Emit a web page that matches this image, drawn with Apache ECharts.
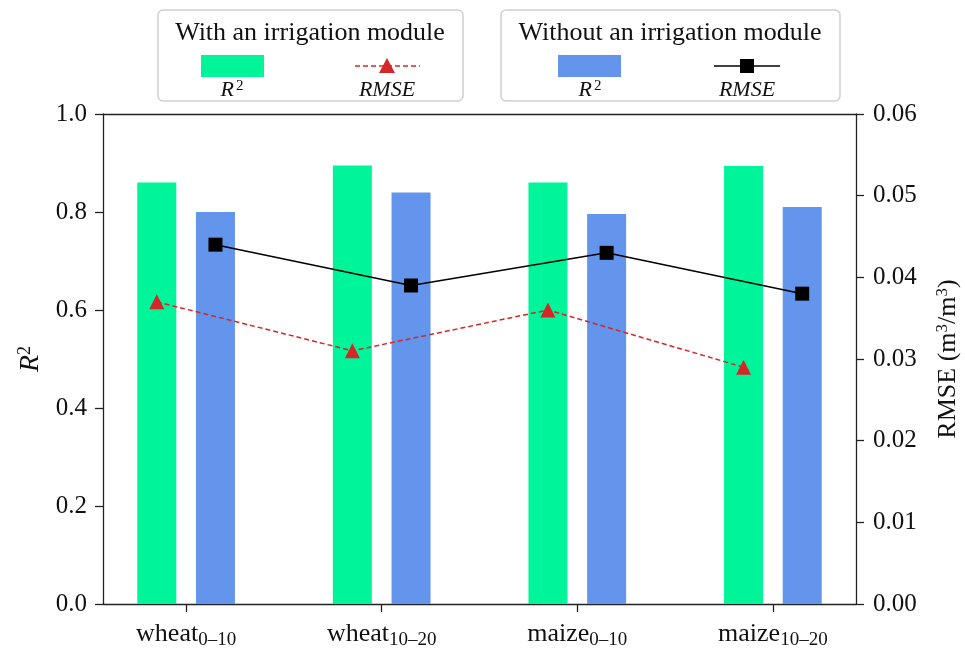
<!DOCTYPE html>
<html><head><meta charset="utf-8">
<script src="https://cdn.jsdelivr.net/npm/echarts@6/dist/echarts.min.js"></script>
<style>html,body{margin:0;padding:0;background:#fff}#c{width:965px;height:649px}</style>
</head><body><div id="c"></div>
<script>
const crops = ['wheat', 'wheat', 'maize', 'maize'];
const depths = ['0–10', '10–20', '0–10', '10–20'];
const r2With = [0.86, 0.895, 0.86, 0.894];
const r2Without = [0.80, 0.84, 0.796, 0.81];
const rmseWith = [0.037, 0.031, 0.036, 0.029];
const rmseWithout = [0.044, 0.039, 0.043, 0.038];
const leftTicks = [0, 0.2, 0.4, 0.6, 0.8, 1.0];
const rightTicks = [0, 0.01, 0.02, 0.03, 0.04, 0.05, 0.06];

const FONT = 'Liberation Serif';
const OFF = 0.15;
const GREEN = '#00F59B', BLUE = '#6495ED', RED = '#D62728';
const idx = crops.map((_, i) => i);
const pos = (arr, d) => arr.map((v, i) => [i + d, v]);

const chart = echarts.init(document.getElementById('c'));
const axisLineStyle = { color: '#222', width: 1.3 };

chart.setOption({
  animation: false,
  grid: { left: 103, right: 109, top: 114, bottom: 45, outerBoundsMode: 'none', containLabel: false },
  xAxis: [{
    type: 'value', min: -0.425, max: 3.425, position: 'bottom',
    splitLine: { show: false },
    axisLine: { show: true, onZero: false, lineStyle: axisLineStyle },
    axisTick: { show: true, customValues: idx, length: 8, inside: false, lineStyle: axisLineStyle },
    axisLabel: {
      customValues: idx, margin: 15, color: '#111', fontFamily: FONT, fontSize: 26,
      formatter: v => crops[Math.round(v)] + '{s|' + depths[Math.round(v)] + '}',
      rich: { s: { fontFamily: FONT, fontSize: 19, verticalAlign: 'bottom', padding: [12, 0, 0, 0], color: '#111' } }
    }
  }, {
    type: 'value', min: -0.425, max: 3.425, position: 'top',
    splitLine: { show: false }, axisTick: { show: false }, axisLabel: { show: false },
    axisLine: { show: true, onZero: false, lineStyle: axisLineStyle }
  }],
  yAxis: [{
    type: 'value', min: leftTicks[0], max: leftTicks[leftTicks.length - 1], interval: 0.2, position: 'left',
    name: '{i|R}{p|2}', nameLocation: 'middle', nameGap: 53, nameRotate: 90,
    nameTextStyle: { fontFamily: FONT, fontSize: 28, color: '#111',
      rich: { i: { fontFamily: FONT, fontStyle: 'italic', fontSize: 28, color: '#111' },
              p: { fontFamily: FONT, fontSize: 18, verticalAlign: 'top', padding: [0, 0, 12, 0], color: '#111' } } },
    splitLine: { show: false },
    axisLine: { show: true, onZero: false, lineStyle: axisLineStyle },
    axisTick: { show: true, length: 8, lineStyle: axisLineStyle },
    axisLabel: { color: '#111', fontFamily: FONT, fontSize: 25, margin: 16, formatter: v => v.toFixed(1) }
  }, {
    type: 'value', min: rightTicks[0], max: rightTicks[rightTicks.length - 1], interval: 0.01, position: 'right',
    name: 'RMSE (m{p|3}/m{p|3})', nameLocation: 'middle', nameGap: 78, nameRotate: 90,
    nameTextStyle: { fontFamily: FONT, fontSize: 26, color: '#111',
      rich: { p: { fontFamily: FONT, fontSize: 17, verticalAlign: 'top', padding: [0, 0, 12, 0], color: '#111' } } },
    splitLine: { show: false },
    axisLine: { show: true, onZero: false, lineStyle: axisLineStyle },
    axisTick: { show: true, length: 8, lineStyle: axisLineStyle },
    axisLabel: { color: '#111', fontFamily: FONT, fontSize: 25, margin: 17, formatter: v => v.toFixed(2) }
  }],
  series: [
    { type: 'bar', name: 'R2 with', xAxisIndex: 0, yAxisIndex: 0, barWidth: 39, barGap: '-100%',
      itemStyle: { color: GREEN }, data: pos(r2With, -OFF), z: 1 },
    { type: 'bar', name: 'R2 without', xAxisIndex: 0, yAxisIndex: 0, barWidth: 39, barGap: '-100%',
      itemStyle: { color: BLUE }, data: pos(r2Without, OFF), z: 1 },
    { type: 'line', name: 'RMSE with', xAxisIndex: 0, yAxisIndex: 1, data: pos(rmseWith, -OFF),
      symbol: 'triangle', symbolSize: 15, lineStyle: { color: RED, width: 1.5, type: [5, 3] },
      itemStyle: { color: RED }, z: 5 },
    { type: 'line', name: 'RMSE without', xAxisIndex: 0, yAxisIndex: 1, data: pos(rmseWithout, OFF),
      symbol: 'rect', symbolSize: 14, lineStyle: { color: '#000', width: 1.5 },
      itemStyle: { color: '#000' }, z: 5 }
  ],
  graphic: [
    { type: 'rect', shape: { x: 158, y: 10, width: 305, height: 91, r: 5 }, style: { fill: '#fff', stroke: '#d0d0d0', lineWidth: 1.5 } },
    { type: 'text', x: 310, y: 33, style: { text: 'With an irrigation module', font: '26px "Liberation Serif"', fill: '#111', align: 'center', verticalAlign: 'middle' } },
    { type: 'rect', shape: { x: 201, y: 55, width: 63, height: 22 }, style: { fill: GREEN } },
    { type: 'text', x: 232, y: 90, style: { text: '{i|R}{p|2}', align: 'center', verticalAlign: 'middle',
      rich: { i: { font: 'italic 22px "Liberation Serif"', fill: '#111' }, p: { font: '15px "Liberation Serif"', fill: '#111', verticalAlign: 'top', padding: [0, 0, 8, 2] } } } },
    { type: 'line', shape: { x1: 355, y1: 66, x2: 420, y2: 66 }, style: { stroke: RED, lineWidth: 1.5, lineDash: [5, 3] } },
    { type: 'polygon', shape: { points: [[387, 58], [379, 73], [395, 73]] }, style: { fill: RED } },
    { type: 'text', x: 387, y: 90, style: { text: 'RMSE', font: 'italic 22px "Liberation Serif"', fill: '#111', align: 'center', verticalAlign: 'middle' } },

    { type: 'rect', shape: { x: 501, y: 10, width: 339, height: 91, r: 5 }, style: { fill: '#fff', stroke: '#d0d0d0', lineWidth: 1.5 } },
    { type: 'text', x: 670, y: 33, style: { text: 'Without an irrigation module', font: '26px "Liberation Serif"', fill: '#111', align: 'center', verticalAlign: 'middle' } },
    { type: 'rect', shape: { x: 558, y: 55, width: 63, height: 22 }, style: { fill: BLUE } },
    { type: 'text', x: 590, y: 90, style: { text: '{i|R}{p|2}', align: 'center', verticalAlign: 'middle',
      rich: { i: { font: 'italic 22px "Liberation Serif"', fill: '#111' }, p: { font: '15px "Liberation Serif"', fill: '#111', verticalAlign: 'top', padding: [0, 0, 8, 2] } } } },
    { type: 'line', shape: { x1: 714, y1: 66, x2: 780, y2: 66 }, style: { stroke: '#000', lineWidth: 1.5 } },
    { type: 'rect', shape: { x: 740, y: 59, width: 14, height: 14 }, style: { fill: '#000' } },
    { type: 'text', x: 747, y: 90, style: { text: 'RMSE', font: 'italic 22px "Liberation Serif"', fill: '#111', align: 'center', verticalAlign: 'middle' } }
  ]
});
</script></body></html>
